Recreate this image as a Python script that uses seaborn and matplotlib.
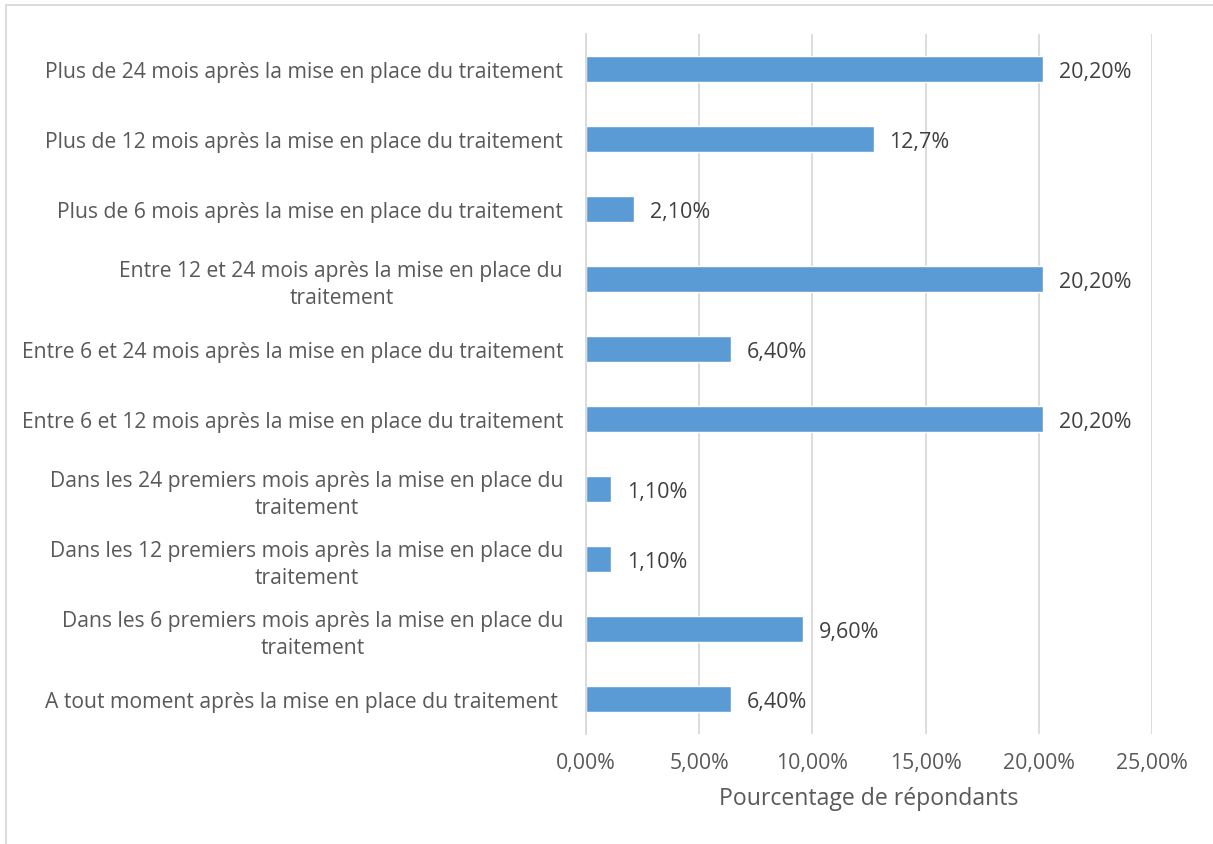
import matplotlib
matplotlib.use("Agg")
import matplotlib.pyplot as plt
import seaborn as sns
import pandas as pd
from matplotlib.patches import Rectangle

categories = [
    "Plus de 24 mois après la mise en place du traitement",
    "Plus de 12 mois après la mise en place du traitement",
    "Plus de 6 mois après la mise en place du traitement",
    "Entre 12 et 24 mois après la mise en place du\ntraitement",
    "Entre 6 et 24 mois après la mise en place du traitement",
    "Entre 6 et 12 mois après la mise en place du traitement",
    "Dans les 24 premiers mois après la mise en place du\ntraitement",
    "Dans les 12 premiers mois après la mise en place du\ntraitement",
    "Dans les 6 premiers mois après la mise en place du\ntraitement",
    "A tout moment après la mise en place du traitement ",
]
values = [20.20, 12.7, 2.10, 20.20, 6.40, 20.20, 1.10, 1.10, 9.60, 6.40]
value_labels = ["20,20%", "12,7%", "2,10%", "20,20%", "6,40%",
                "20,20%", "1,10%", "1,10%", "9,60%", "6,40%"]
ticks = [0, 5, 10, 15, 20, 25]
tick_labels = ["0,00%", "5,00%", "10,00%", "15,00%", "20,00%", "25,00%"]

sns.set_theme(style="white")
plt.rcParams["font.family"] = ["Open Sans", "DejaVu Sans"]

W, H = 1213, 845
fig = plt.figure(figsize=(W / 100, H / 100), dpi=100)
ax = fig.add_axes([586 / W, 1 - 735 / H, (1152 - 586) / W, (735 - 35) / H])

df = pd.DataFrame({"cat": categories, "val": values})
sns.barplot(data=df, x="val", y="cat", color="#5B9BD5", saturation=1,
            width=0.36, ax=ax, orient="h")

ax.set_xlim(0, 25)
ax.set_ylim(9.5, -0.5)
ax.set_xticks(ticks)
ax.set_xticklabels(tick_labels)
ax.xaxis.grid(True, color="#D9D9D9", linewidth=1.3)
ax.set_axisbelow(True)
for s in ["top", "right", "bottom"]:
    ax.spines[s].set_visible(False)
ax.spines["left"].set_color("#D9D9D9")
ax.spines["left"].set_linewidth(1.3)
ax.tick_params(axis="x", length=0, colors="#595959", labelsize=15.3, pad=13)
ax.tick_params(axis="y", length=0, colors="#595959", labelsize=15.2, pad=16.5)
for lbl in ax.get_yticklabels():
    lbl.set_multialignment("center")
    lbl.set_linespacing(1.35)
    lbl.set_color("#595959")
ax.set_ylabel("")
ax.set_xlabel("Pourcentage de répondants", color="#595959", fontsize=16.6,
              labelpad=9)

for i, (v, t) in enumerate(zip(values, value_labels)):
    ax.annotate(t, xy=(v, i), xytext=(11.5, 0), textcoords="offset points",
                va="center_baseline", ha="left", fontsize=15.5,
                color="#404040")

# outer chart frame
fig.patches.append(Rectangle((6 / W, -0.1), 1.2, 1 - 6 / H + 0.1,
                             transform=fig.transFigure, fill=False,
                             edgecolor="#D9D9D9", linewidth=1.3))

fig.savefig("out.png", dpi=100)
